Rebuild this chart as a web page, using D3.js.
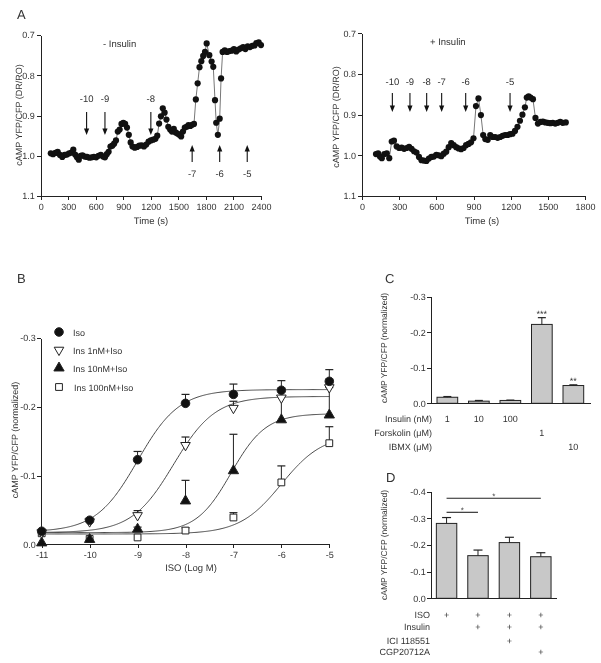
<!DOCTYPE html>
<html><head><meta charset="utf-8">
<script src="https://cdn.jsdelivr.net/npm/d3@7"></script>
<style>
body{margin:0;background:#fff;}
svg{display:block;font-family:"Liberation Sans",Arial,sans-serif;text-rendering:geometricPrecision;will-change:transform;}
.axis path,.axis line{stroke:#222;stroke-width:1;shape-rendering:crispEdges;}
.axis text{fill:#333;font-size:9px;font-family:"Liberation Sans",Arial,sans-serif;}
</style></head>
<body>
<script>
// ---------- Panel A data ----------
const aLeftTime = [110,135,160,185,210,235,260,285,310,335,355,375,395,415,435,455,480,505,530,555,580,605,630,655,680,700,720,740,760,780,800,820,840,860,880,900,920,940,960,980,1000,1025,1050,1075,1100,1125,1150,1175,1200,1225,1250,1270,1290,1310,1330,1350,1370,1390,1410,1430,1450,1470,1490,1510,1530,1550,1570,1590,1610,1630,1650,1670,1690,1710,1730,1750,1770,1790,1808,1837,1862,1880,1899,1912,1930,1950,1965,1982,2005,2030,2055,2080,2105,2130,2155,2180,2205,2230,2255,2280,2305,2330,2350,2375,2400];
const aLeftValue = [0.994,0.996,0.993,0.990,0.998,1.003,0.998,0.997,0.994,0.992,0.985,0.997,1.004,1.010,1.000,0.999,1.002,1.003,1.005,1.004,1.003,1.004,1.000,0.998,1.002,1.004,0.996,0.990,0.977,0.975,0.970,0.962,0.940,0.935,0.921,0.918,0.921,0.930,0.948,0.967,0.977,0.980,0.978,0.975,0.974,0.977,0.972,0.965,0.962,0.960,0.958,0.950,0.920,0.902,0.882,0.893,0.910,0.928,0.935,0.940,0.933,0.942,0.945,0.948,0.952,0.940,0.930,0.928,0.924,0.926,0.923,0.921,0.860,0.820,0.780,0.765,0.752,0.742,0.721,0.750,0.766,0.779,0.862,0.918,0.948,0.908,0.808,0.742,0.738,0.742,0.740,0.739,0.735,0.741,0.736,0.733,0.730,0.735,0.728,0.730,0.727,0.726,0.720,0.718,0.725];
const aLeftDownT = [500,700,1200];
const aLeftDownLabels = ["-10","-9","-8"];
const aLeftUpT = [1650,1950,2250];
const aLeftUpLabels = ["-7","-6","-5"];

const aRightTime = [113,130,145,160,180,200,220,240,258,280,300,320,340,360,380,400,420,440,460,480,500,520,540,560,580,600,620,640,660,680,700,720,740,760,780,800,820,840,860,880,900,920,940,960,978,995,1015,1035,1055,1075,1095,1115,1135,1155,1175,1195,1215,1235,1255,1275,1295,1315,1330,1345,1360,1380,1400,1420,1440,1460,1480,1500,1520,1540,1560,1580,1600,1620,1645];
const aRightValue = [0.997,0.995,1.003,1.007,0.997,0.995,1.007,0.966,0.964,0.978,0.982,0.981,0.984,0.982,0.979,0.984,0.990,0.993,1.004,1.012,1.013,1.014,1.008,1.004,1.003,0.999,1.000,1.002,0.996,0.991,0.980,0.970,0.975,0.980,0.983,0.985,0.982,0.975,0.972,0.968,0.958,0.879,0.860,0.901,0.950,0.960,0.962,0.950,0.955,0.955,0.957,0.955,0.952,0.950,0.950,0.948,0.947,0.940,0.930,0.915,0.900,0.882,0.858,0.855,0.858,0.862,0.908,0.922,0.918,0.917,0.919,0.920,0.921,0.920,0.922,0.920,0.918,0.920,0.919];
const aRightDownT = [245,387,522,643,837,1195];
const aRightDownLabels = ["-10","-9","-8","-7","-6","-5"];
const aYTicks = [0.7,0.8,0.9,1.0,1.1];
const aLeftXTicks = [0,300,600,900,1200,1500,1800,2100,2400];
const aRightXTicks = [0,300,600,900,1200,1500,1800];

// ---------- Panel B data ----------
const bLogIso = [-11,-10,-9,-8,-7,-6,-5];
const bSeriesNames = ["Iso","Ins 1nM+Iso","Ins 10nM+Iso","Ins 100nM+Iso"];
const bIso = [-0.019,-0.035,-0.123,-0.205,-0.218,-0.224,-0.237];
const bIsoErr = [0.002,0.003,0.012,0.013,0.015,0.014,0.017];
const bIns1 = [-0.017,-0.033,-0.042,-0.144,-0.198,-0.213,-0.228];
const bIns1Err = [0.002,0.003,0.007,0.012,0.010,0.014,0.012];
const bIns10 = [-0.002,-0.007,-0.022,-0.063,-0.107,-0.181,-0.188];
const bIns10Err = [0,0,0.003,0.030,0.053,0.035,0.040];
const bIns100 = [-0.016,-0.008,-0.010,-0.020,-0.039,-0.090,-0.147];
const bIns100Err = [0,0,0,0.004,0.007,0.024,0.024];
const bFitBottom = [-0.018,-0.017,-0.017,-0.015];
const bFitTop = [-0.225,-0.215,-0.190,-0.160];
const bFitLogEC50 = [-9.0,-8.25,-7.05,-6.0];
const bFitHill = [1,1,1.2,1];
const bYTicks = [-0.3,-0.2,-0.1,0.0];

// ---------- Panel C data ----------
const cCats = ["Ins1","Ins10","Ins100","Fsk1","IBMX10"];
const cValues = [-0.017,-0.006,-0.008,-0.222,-0.050];
const cErrors = [0.002,0.002,0.001,0.019,0.002];
const cSig = ["","","","***","**"];
const cRowLabels = ["Insulin (nM)","Forskolin (\u03bcM)","IBMX (\u03bcM)"];
const cRowInsulin = ["1","10","100","",""];
const cRowForskolin = ["","","","1",""];
const cRowIBMX = ["","","","","10"];
const cYTicks = [-0.3,-0.2,-0.1,0.0];

// ---------- Panel D data ----------
const dCats = ["ISO","ISO+Ins","ISO+Ins+ICI","ISO+Ins+CGP"];
const dValues = [-0.281,-0.160,-0.209,-0.156];
const dErrors = [0.022,0.021,0.020,0.015];
const dRowLabels = ["ISO","Insulin","ICI 118551","CGP20712A"];
const dRowISO = ["+","+","+","+"];
const dRowInsulin = ["","+","+","+"];
const dRowICI = ["","","+",""];
const dRowCGP = ["","","","+"];
const dSigPairs = [[0,3,"*"],[0,1,"*"]];
const dYTicks = [-0.4,-0.3,-0.2,-0.1,0.0];

// ---------- drawing ----------
const W = 601, H = 663;
const svg = d3.select("body").append("svg").attr("width",W).attr("height",H);
const TXT = "#333";
const hy = s => s.replace("\u2212","-");
const fmt1 = d3.format(".1f");
const fmtNeg = v => (v === 0 ? "0.0" : hy(d3.format(".1f")(v)));
const fmtInt = v => hy(d3.format("d")(v));

function title(x,y,t){
  svg.append("text").attr("x",x).attr("y",y).attr("font-size",13).attr("fill",TXT).text(t);
}
function ylabel(x,y,t,fs){
  svg.append("text").attr("transform",`translate(${x},${y}) rotate(-90)`)
    .attr("text-anchor","middle").attr("font-size",fs||9).attr("fill",TXT).text(t);
}
function txt(x,y,t,opts={}){
  return svg.append("text").attr("x",x).attr("y",y).attr("font-size",opts.fs||9)
    .attr("text-anchor",opts.anchor||"middle").attr("fill",TXT).text(t);
}

// ===== Panel A =====
function panelA(times, values, xDomain, xRange, yRange, xTicks){
  const x = d3.scaleLinear().domain(xDomain).range(xRange);
  const y = d3.scaleLinear().domain([0.7,1.1]).range(yRange);
  const g = svg.append("g");
  g.append("g").attr("class","axis").attr("transform",`translate(0,${yRange[1]})`)
    .call(d3.axisBottom(x).tickValues(xTicks).tickFormat(fmtInt).tickSize(4).tickSizeOuter(0).tickPadding(4));
  g.append("g").attr("class","axis").attr("transform",`translate(${xRange[0]},0)`)
    .call(d3.axisLeft(y).tickValues(aYTicks).tickFormat(fmt1).tickSize(4).tickSizeOuter(0).tickPadding(2));
  const pts = times.map((t,i)=>[t,values[i]]);
  g.append("path").datum(pts).attr("fill","none").attr("stroke","#777").attr("stroke-width",1)
    .attr("d",d3.line().x(d=>x(d[0])).y(d=>y(d[1])));
  g.selectAll("circle.pt").data(pts).join("circle").attr("class","pt")
    .attr("cx",d=>x(d[0])).attr("cy",d=>y(d[1])).attr("r",3.1).attr("fill","#111");
  return x;
}
function arrow(x,y1,y2){ // from y1 to tip y2
  const dir = y2>y1 ? 1 : -1;
  svg.append("line").attr("x1",x).attr("x2",x).attr("y1",y1).attr("y2",y2-dir*3).attr("stroke","#111").attr("stroke-width",1.1);
  svg.append("path").attr("d",`M${x-2.6},${y2-dir*6.5} L${x},${y2} L${x+2.6},${y2-dir*6.5} Z`).attr("fill","#111");
}

title(17,19,"A");
const xAL = panelA(aLeftTime,aLeftValue,[0,2400],[40.7,261],[35,196],aLeftXTicks);
ylabel(21.5,115,"cAMP YFP/CFP (DR/RO)");
txt(151,224,"Time (s)",{fs:9.5});
txt(103,47,"- Insulin",{fs:9.5,anchor:"start"});
aLeftDownT.forEach((t,i)=>{ arrow(xAL(t),112,135); txt(xAL(t),102,aLeftDownLabels[i],{fs:9.5}); });
aLeftUpT.forEach((t,i)=>{ arrow(xAL(t),162,145); txt(xAL(t),177,aLeftUpLabels[i],{fs:9.5}); });

const xAR = panelA(aRightTime,aRightValue,[0,1800],[362,585],[33.3,196],aRightXTicks);
ylabel(338.5,117,"cAMP YFP/CFP (DR/RO)");
txt(482,224,"Time (s)",{fs:9.5});
txt(430,45,"+ Insulin",{fs:9.5,anchor:"start"});
aRightDownT.forEach((t,i)=>{ arrow(xAR(t),93,112); txt(xAR(t),85,aRightDownLabels[i],{fs:9.5}); });

// ===== Panel B =====
title(17,283,"B");
{
  const x = d3.scaleLinear().domain([-11,-5]).range([41.7,329.3]);
  const y = d3.scaleLinear().domain([0,-0.3]).range([544.3,338]);
  const g = svg.append("g");
  g.append("g").attr("class","axis").attr("transform",`translate(0,${y(0)})`)
    .call(d3.axisBottom(x).tickValues(bLogIso).tickFormat(fmtInt).tickSize(4).tickSizeOuter(0).tickPadding(3));
  g.append("g").attr("class","axis").attr("transform",`translate(40.7,0)`)
    .call(d3.axisLeft(y).tickValues(bYTicks).tickFormat(fmtNeg).tickSize(4).tickSizeOuter(0).tickPadding(1));
  ylabel(18,440,"cAMP YFP/CFP (normalized)");
  txt(191,571,"ISO (Log M)",{fs:9.5});
  const series = [bIso,bIns1,bIns10,bIns100];
  const errs = [bIsoErr,bIns1Err,bIns10Err,bIns100Err];
  // fitted curves
  const xs = d3.range(-11,-4.999,0.02);
  series.forEach((s,k)=>{
    const f = v => bFitBottom[k] + (bFitTop[k]-bFitBottom[k])/(1+Math.pow(10,bFitHill[k]*(bFitLogEC50[k]-v)));
    g.append("path").datum(xs).attr("fill","none").attr("stroke","#444").attr("stroke-width",1)
      .attr("d",d3.line().x(v=>x(v)).y(v=>y(f(v))));
  });
  // error bars
  series.forEach((s,k)=>{
    s.forEach((v,i)=>{
      const e = errs[k][i]; if(!e) return;
      const cx = x(bLogIso[i]);
      g.append("line").attr("x1",cx).attr("x2",cx).attr("y1",y(v)).attr("y2",y(v-e)).attr("stroke","#222");
      g.append("line").attr("x1",cx-4).attr("x2",cx+4).attr("y1",y(v-e)).attr("y2",y(v-e)).attr("stroke","#222").attr("stroke-width",1.2);
    });
  });
  const symDefs = [
    {type:d3.symbolCircle,size:58,fill:"#111",rot:0},
    {type:d3.symbolTriangle,size:40,fill:"#fff",rot:180},
    {type:d3.symbolTriangle,size:46,fill:"#111",rot:0},
    {type:d3.symbolSquare,size:46,fill:"#fff",rot:0}
  ];
  [3,2,1,0].forEach(k=>{
    const sd = symDefs[k];
    series[k].forEach((v,i)=>{
      g.append("path").attr("d",d3.symbol().type(sd.type).size(sd.size)())
        .attr("transform",`translate(${x(bLogIso[i])},${y(v)}) rotate(${sd.rot})`)
        .attr("fill",sd.fill).attr("stroke","#222").attr("stroke-width",1);
    });
  });
  // legend
  const ly = [332,350,368,387];
  bSeriesNames.forEach((n,k)=>{
    const sd = symDefs[k];
    g.append("path").attr("d",d3.symbol().type(sd.type).size(sd.size)())
      .attr("transform",`translate(59,${ly[k]}) rotate(${sd.rot})`)
      .attr("fill",sd.fill).attr("stroke","#222");
    txt(k===3?74:73,ly[k]+3.5,n,{fs:9,anchor:"start"});
  });
}

// ===== Panel C =====
title(385,283,"C");
{
  const x = d3.scaleBand().domain(cCats).range([430.7,590]).paddingInner(0.343).paddingOuter(0.2);
  const y = d3.scaleLinear().domain([0,-0.3]).range([403.3,296.7]);
  const g = svg.append("g");
  g.selectAll("rect").data(cValues).join("rect")
    .attr("x",(d,i)=>x(cCats[i])).attr("width",x.bandwidth())
    .attr("y",d=>y(d)).attr("height",d=>y(0)-y(d))
    .attr("fill","#c8c8c8").attr("stroke","#222").attr("stroke-width",1);
  cValues.forEach((v,i)=>{
    const cx = x(cCats[i])+x.bandwidth()/2, e = cErrors[i];
    g.append("line").attr("x1",cx).attr("x2",cx).attr("y1",y(v)).attr("y2",y(v-e)).attr("stroke","#222");
    g.append("line").attr("x1",cx-4).attr("x2",cx+4).attr("y1",y(v-e)).attr("y2",y(v-e)).attr("stroke","#222").attr("stroke-width",1.2);
    if(cSig[i]) txt(cx,y(v-e)-1,cSig[i],{fs:9});
  });
  g.append("g").attr("class","axis").attr("transform",`translate(0,${y(0)})`)
    .call(d3.axisBottom(x).tickValues([]).tickSizeOuter(0));
  g.append("g").attr("class","axis").attr("transform",`translate(430.7,0)`)
    .call(d3.axisLeft(y).tickValues(cYTicks).tickFormat(fmtNeg).tickSize(4).tickSizeOuter(0).tickPadding(1));
  ylabel(386.5,348,"cAMP YFP/CFP (normalized)",8.5);
  const rows = [cRowInsulin,cRowForskolin,cRowIBMX];
  const rys = [421.5,435.5,450];
  rows.forEach((r,j)=>{
    txt(432,rys[j],cRowLabels[j],{fs:9,anchor:"end"});
    r.forEach((s,i)=>{ if(s) txt(x(cCats[i])+x.bandwidth()/2,rys[j],s,{fs:9}); });
  });
}

// ===== Panel D =====
title(386,482,"D");
{
  const x = d3.scaleBand().domain(dCats).range([430.7,556.7]).paddingInner(0.35).paddingOuter(0.18);
  const y = d3.scaleLinear().domain([0,-0.4]).range([598.3,491.7]);
  const g = svg.append("g");
  g.selectAll("rect").data(dValues).join("rect")
    .attr("x",(d,i)=>x(dCats[i])).attr("width",x.bandwidth())
    .attr("y",d=>y(d)).attr("height",d=>y(0)-y(d))
    .attr("fill","#c8c8c8").attr("stroke","#222").attr("stroke-width",1);
  dValues.forEach((v,i)=>{
    const cx = x(dCats[i])+x.bandwidth()/2, e = dErrors[i];
    g.append("line").attr("x1",cx).attr("x2",cx).attr("y1",y(v)).attr("y2",y(v-e)).attr("stroke","#222");
    g.append("line").attr("x1",cx-4.5).attr("x2",cx+4.5).attr("y1",y(v-e)).attr("y2",y(v-e)).attr("stroke","#222").attr("stroke-width",1.2);
  });
  g.append("g").attr("class","axis").attr("transform",`translate(0,${y(0)})`)
    .call(d3.axisBottom(x).tickValues([]).tickSizeOuter(0));
  g.append("g").attr("class","axis").attr("transform",`translate(430.7,0)`)
    .call(d3.axisLeft(y).tickValues(dYTicks).tickFormat(fmtNeg).tickSize(4).tickSizeOuter(0).tickPadding(1));
  ylabel(386.5,545,"cAMP YFP/CFP (normalized)",8.5);
  const sigY = [498.3,512.3];
  dSigPairs.forEach((p,j)=>{
    const x1 = x(dCats[p[0]])+x.bandwidth()/2, x2 = x(dCats[p[1]])+x.bandwidth()/2;
    g.append("line").attr("x1",x1).attr("x2",x2).attr("y1",sigY[j]).attr("y2",sigY[j]).attr("stroke","#222").attr("stroke-width",1.1);
    txt((x1+x2)/2,sigY[j]+1,p[2],{fs:8});
  });
  const rows = [dRowISO,dRowInsulin,dRowICI,dRowCGP];
  const rys = [617.5,630,643.5,655];
  rows.forEach((r,j)=>{
    txt(430,rys[j],dRowLabels[j],{fs:9,anchor:"end"});
    r.forEach((s,i)=>{ if(s) txt(x(dCats[i])+x.bandwidth()/2,rys[j],s,{fs:9}); });
  });
}
</script>
</body></html>
